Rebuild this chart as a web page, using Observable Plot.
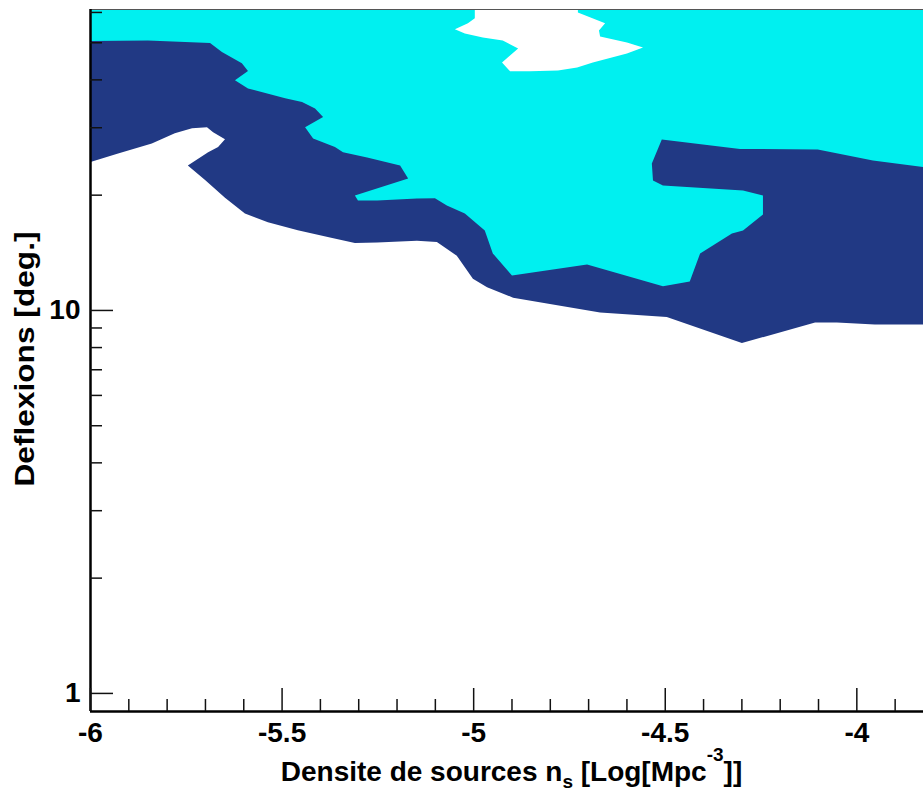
<!DOCTYPE html>
<html><head><meta charset="utf-8">
<script src="https://cdn.jsdelivr.net/npm/d3@7"></script>
<script src="https://cdn.jsdelivr.net/npm/@observablehq/plot@0.6"></script>
<style>body{margin:0;background:#fff} #chart svg{display:block}</style>
</head><body><div id="chart"></div>
<script>
// Axis domains
const X_MIN = -6, X_MAX = -3.826, Y_MIN = 0.897, Y_MAX = 61.07;

// Dark-blue contour: lower boundary (blue / white), left to right
const blueX = [-6, -5.928, -5.840, -5.780, -5.735, -5.696, -5.680, -5.649, -5.667, -5.693, -5.746, -5.701, -5.649, -5.597, -5.537, -5.459, -5.375, -5.310, -5.252, -5.148, -5.096, -5.044, -5.002, -4.965, -4.897, -4.801, -4.670, -4.496, -4.300, -4.109, -4.052, -3.953, -3.826];
const blueY = [24.4, 25.7, 27.3, 29.0, 29.9, 30.1, 29.2, 28.0, 26.7, 25.9, 23.9, 21.9, 19.7, 17.9, 17.0, 16.2, 15.5, 15.0, 15.05, 15.2, 15.1, 13.9, 12.1, 11.5, 10.8, 10.4, 9.88, 9.61, 8.22, 9.30, 9.30, 9.19, 9.19];

// Cyan contour: lower boundary (cyan / blue), left to right
const cyanX = [-6, -5.850, -5.753, -5.688, -5.657, -5.605, -5.589, -5.623, -5.589, -5.492, -5.448, -5.414, -5.393, -5.440, -5.419, -5.362, -5.341, -5.278, -5.192, -5.171, -5.310, -5.302, -5.252, -5.148, -5.101, -5.070, -5.023, -4.971, -4.950, -4.900, -4.704, -4.506, -4.436, -4.409, -4.326, -4.297, -4.245, -4.245, -4.297, -4.506, -4.532, -4.535, -4.509, -4.305, -4.102, -3.958, -3.826];
const cyanY = [50.5, 50.7, 50.2, 49.9, 47.3, 44.2, 42.2, 39.9, 38.0, 35.8, 35.0, 33.7, 32.0, 30.1, 28.1, 26.7, 25.9, 25.1, 23.9, 22.1, 19.97, 19.37, 19.37, 19.61, 19.63, 18.8, 17.92, 16.18, 14.09, 12.34, 13.19, 11.57, 11.91, 14.09, 15.89, 16.18, 17.81, 19.97, 20.58, 21.20, 21.85, 24.20, 27.96, 26.41, 26.33, 24.64, 23.67];

// White island inside the cyan region (top)
const whiteX = [-4.997, -4.997, -5.015, -5.049, -5.023, -4.976, -4.924, -4.884, -4.926, -4.905, -4.853, -4.780, -4.730, -4.689, -4.600, -4.558, -4.600, -4.670, -4.673, -4.657, -4.728, -4.728];
const whiteY = [Y_MAX, 57.9, 56.2, 54.2, 52.9, 51.6, 50.7, 48.3, 44.4, 42.1, 42.1, 42.3, 43.1, 44.4, 46.9, 48.6, 50.1, 51.9, 53.8, 56.2, 60.0, Y_MAX];

// Ticks and labels
const xMajorTicks = [-6, -5.5, -5, -4.5, -4];
const xMinorTicks = [-5.9, -5.8, -5.7, -5.6, -5.4, -5.3, -5.2, -5.1, -4.9, -4.8, -4.7, -4.6, -4.4, -4.3, -4.2, -4.1, -3.9];
const xTickLabels = ["-6", "-5.5", "-5", "-4.5", "-4"];
const yMajorTicks = [1, 10];
const yMinorTicks = [2, 3, 4, 5, 6, 7, 8, 9, 20, 30, 40, 50, 60];
const yTickLabels = ["1", "10"];
const xTitleParts = ["Densite de sources n", "s", " [Log[Mpc", "-3", "]]"];
const yTitle = "Deflexions [deg.]";

const NAVY = "#213984", CYAN = "#00F0F0";
const W = 923, H = 793, mt = 9, mb = 82, ml = 90, mr = 0;
const plotW = W - ml - mr, plotH = H - mt - mb;
const FONT = "'Liberation Sans', Arial, Helvetica, sans-serif";

function region(xs, ys, closeTop) {
  const pts = xs.map((x, i) => ({x, y: ys[i]}));
  if (closeTop) pts.push({x: X_MAX, y: Y_MAX}, {x: X_MIN, y: Y_MAX});
  return pts;
}

const chart = Plot.plot({
  width: W, height: H,
  marginTop: mt, marginBottom: mb, marginLeft: ml, marginRight: mr,
  style: {fontFamily: FONT, background: "#fff"},
  x: {domain: [X_MIN, X_MAX], axis: null},
  y: {type: "log", domain: [Y_MIN, Y_MAX], axis: null},
  marks: [
    Plot.line(region(blueX, blueY, true), {x: "x", y: "y", fill: NAVY, stroke: "none", curve: "linear-closed"}),
    Plot.line(region(cyanX, cyanY, true), {x: "x", y: "y", fill: CYAN, stroke: "none", curve: "linear-closed"}),
    Plot.line(region(whiteX, whiteY, false), {x: "x", y: "y", fill: "#fff", stroke: "none", curve: "linear-closed"}),
    // frame lines
    Plot.ruleY([Y_MAX], {stroke: "#555", strokeWidth: 1.2}),
    Plot.ruleX([X_MIN], {stroke: "#000", strokeWidth: 2.5}),
    Plot.ruleY([Y_MIN], {stroke: "#000", strokeWidth: 2.5}),
    // ticks (inside)
    Plot.ruleX(xMajorTicks, {x: d => d, insetTop: plotH - 23, stroke: "#111", strokeWidth: 1.5}),
    Plot.ruleX(xMinorTicks, {x: d => d, insetTop: plotH - 12, stroke: "#111", strokeWidth: 1.5}),
    Plot.ruleY(yMajorTicks, {y: d => d, insetRight: plotW - 23, stroke: "#111", strokeWidth: 1.5}),
    Plot.ruleY(yMinorTicks, {y: d => d, insetRight: plotW - 12, stroke: "#111", strokeWidth: 1.5}),
    // tick labels
    Plot.text(xMajorTicks, {x: d => d, frameAnchor: "bottom", dy: 11, lineAnchor: "top", text: (d, i) => xTickLabels[i], fontSize: 28, fontWeight: "bold", fill: "#000"}),
    Plot.text(yMajorTicks, {y: d => d, frameAnchor: "left", dx: -10, textAnchor: "end", text: (d, i) => yTickLabels[i], fontSize: 28, fontWeight: "bold", fill: "#000"}),
    // titles
    Plot.text([xTitleParts.join("")], {frameAnchor: "bottom", dy: 69, dx: 4.5, lineAnchor: "bottom", fontSize: 28, fontWeight: "bold", fill: "#000"}),
    Plot.text([yTitle], {frameAnchor: "left", dx: -57, dy: -1.5, rotate: -90, textAnchor: "middle", lineAnchor: "bottom", fontSize: 28, fontWeight: "bold", fill: "#000"})
  ]
});

// rich text for the x title (subscript / superscript)
d3.select(chart).selectAll("text")
  .filter(function () { return this.textContent === xTitleParts.join(""); })
  .each(function () {
    const t = d3.select(this);
    t.text(null);
    t.append("tspan").text(xTitleParts[0]);
    t.append("tspan").attr("font-size", 19).attr("dy", 7).text(xTitleParts[1]);
    t.append("tspan").attr("dy", -7).text(xTitleParts[2]);
    t.append("tspan").attr("font-size", 19).attr("dy", -20).text(xTitleParts[3]);
    t.append("tspan").attr("dy", 20).text(xTitleParts[4]);
  });

// the y title in the reference is slightly wider-set
d3.select(chart).selectAll("text")
  .filter(function () { return this.textContent === yTitle; })
  .attr("textLength", 255).attr("lengthAdjust", "spacingAndGlyphs");

document.getElementById("chart").appendChild(chart);
</script>
</body></html>
